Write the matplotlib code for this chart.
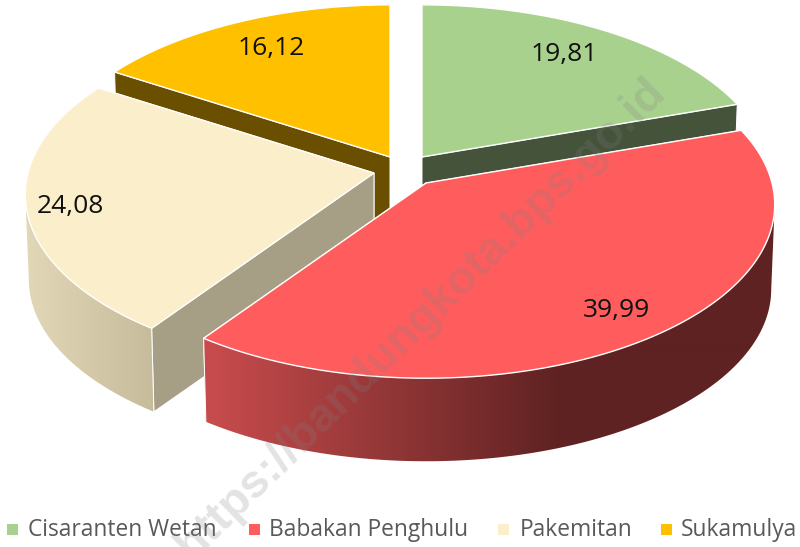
import numpy as np
import matplotlib
matplotlib.use("Agg")
import matplotlib.pyplot as plt
from matplotlib.colors import LinearSegmentedColormap
from matplotlib.patches import Polygon, Rectangle

# values from the chart
categories = ["Cisaranten Wetan", "Babakan Penghulu", "Pakemitan", "Sukamulya"]
values = [19.81, 39.99, 24.08, 16.12]
value_labels = ["19,81", "39,99", "24,08", "16,12"]

# colours per slice
top_colors = ["#a9d18e", "#ff5d5d", "#fbeecb", "#ffc000"]
cut_colors = ["#44533a", "#7a2c2c", "#a69e85", "#6b4f00"]
wall_left = ["#a9d18e", "#c94c4d", "#e2d7b6", "#ffc000"]
wall_right = ["#44533a", "#5f2222", "#c6bb9b", "#6b4f00"]
wall_span = [(420, 740), (205, 560), (25, 155), (115, 390)]

# layout in pixels
apex = [(422, 157), (426, 183), (374, 173), (390, 157)]
label_pos = [(564, 55), (616, 310), (70, 206), (271, 48)]
legend_marker_x = [7, 249, 498, 661]
legend_text_x = [28, 269, 520, 681]
RX, RY, PERSP = 346, 171, 0.124
DEPTH, SHRINK = 85, 0.99


def rim(theta):
    # theta clockwise from 12 o'clock, returns offset from the slice apex
    u, v = np.sin(theta), np.cos(theta)
    w = 1 / (1 + PERSP * v)
    return RX * u * w, -RY * v * w


def lower(x, y, ax_, ay_):
    return ax_ + SHRINK * (x - ax_), ay_ + DEPTH + SHRINK * (y - ay_)


def draw_slice(ax, i, start, end):
    ax_, ay_ = apex[i]
    th = np.linspace(start, end, 240)
    dx, dy = rim(th)
    x, y = ax_ + dx, ay_ + dy
    xb, yb = lower(x, y, ax_, ay_)
    ab = (ax_, ay_ + DEPTH)

    # the cut whose outer corner sits lower on screen is the one facing us, so it goes last
    cuts = sorted([0, -1], key=lambda k: y[k])
    for k in cuts:
        ax.add_patch(Polygon([(ax_, ay_), (x[k], y[k]), (xb[k], yb[k]), ab],
                             facecolor=cut_colors[i], edgecolor="white", lw=0.7, zorder=2))

    # rim wall starts at the widest point of the arc, so its outer side runs straight down
    if i in (1, 2):
        widest = np.argmax(np.abs(dx))
        front = np.cos(th) <= np.cos(th[widest])
        wall = Polygon(np.column_stack([np.r_[x[front], xb[front][::-1]],
                                        np.r_[y[front], yb[front][::-1]]]),
                       transform=ax.transData, facecolor="none", edgecolor="none")
        ax.add_patch(wall)
        x0, x1 = wall_span[i]
        grad = np.clip((np.arange(800) + 0.5 - x0) / (x1 - x0), 0, 1)[None, :]
        cmap = LinearSegmentedColormap.from_list("wall", [wall_left[i], wall_right[i]])
        im = ax.imshow(grad, extent=(0, 800, 547, 0), cmap=cmap, vmin=0, vmax=1,
                       aspect="auto", interpolation="bilinear", zorder=2)
        im.set_clip_path(wall)
        # corner line of the wall where it meets the cut
        last = np.where(front)[0][-1] if i == 1 else np.where(front)[0][0]
        ax.plot([x[last], xb[last]], [y[last], yb[last]], color="white", lw=0.7, zorder=2)

    ax.add_patch(Polygon(np.column_stack([np.r_[ax_, x], np.r_[ay_, y]]),
                         facecolor=top_colors[i], edgecolor="white", lw=1.0, zorder=2))


fig = plt.figure(figsize=(8, 5.47), dpi=100)
ax = fig.add_axes([0, 0, 1, 1])
ax.axis("off")

edges = np.r_[0, np.cumsum(values)] / sum(values) * 2 * np.pi

# painter's order: back slices first, big front slice last
for i in [3, 0, 2, 1]:
    draw_slice(ax, i, edges[i], edges[i + 1])

ax.set_xlim(0, 800)
ax.set_ylim(547, 0)

for i, txt in enumerate(value_labels):
    ax.text(label_pos[i][0], label_pos[i][1], txt, ha="center", va="center",
            fontsize=19, family="Open Sans", color="#111111", zorder=5)

for i, name in enumerate(categories):
    ax.add_patch(Rectangle((legend_marker_x[i], 524), 11, 11, facecolor=top_colors[i], edgecolor="none", zorder=5))
    ax.text(legend_text_x[i], 530, name, ha="left", va="center",
            fontsize=16.4, family="Open Sans", color="#595959", zorder=5)

# watermark
ax.text(421, 319, "https://bandungkota.bps.go.id", rotation=44.5, rotation_mode="anchor",
        ha="center", va="center", fontsize=33.5, family="Liberation Sans", fontweight="bold",
        color="#808080", alpha=0.22, zorder=6, clip_on=True)

fig.savefig("out.png", dpi=100)
